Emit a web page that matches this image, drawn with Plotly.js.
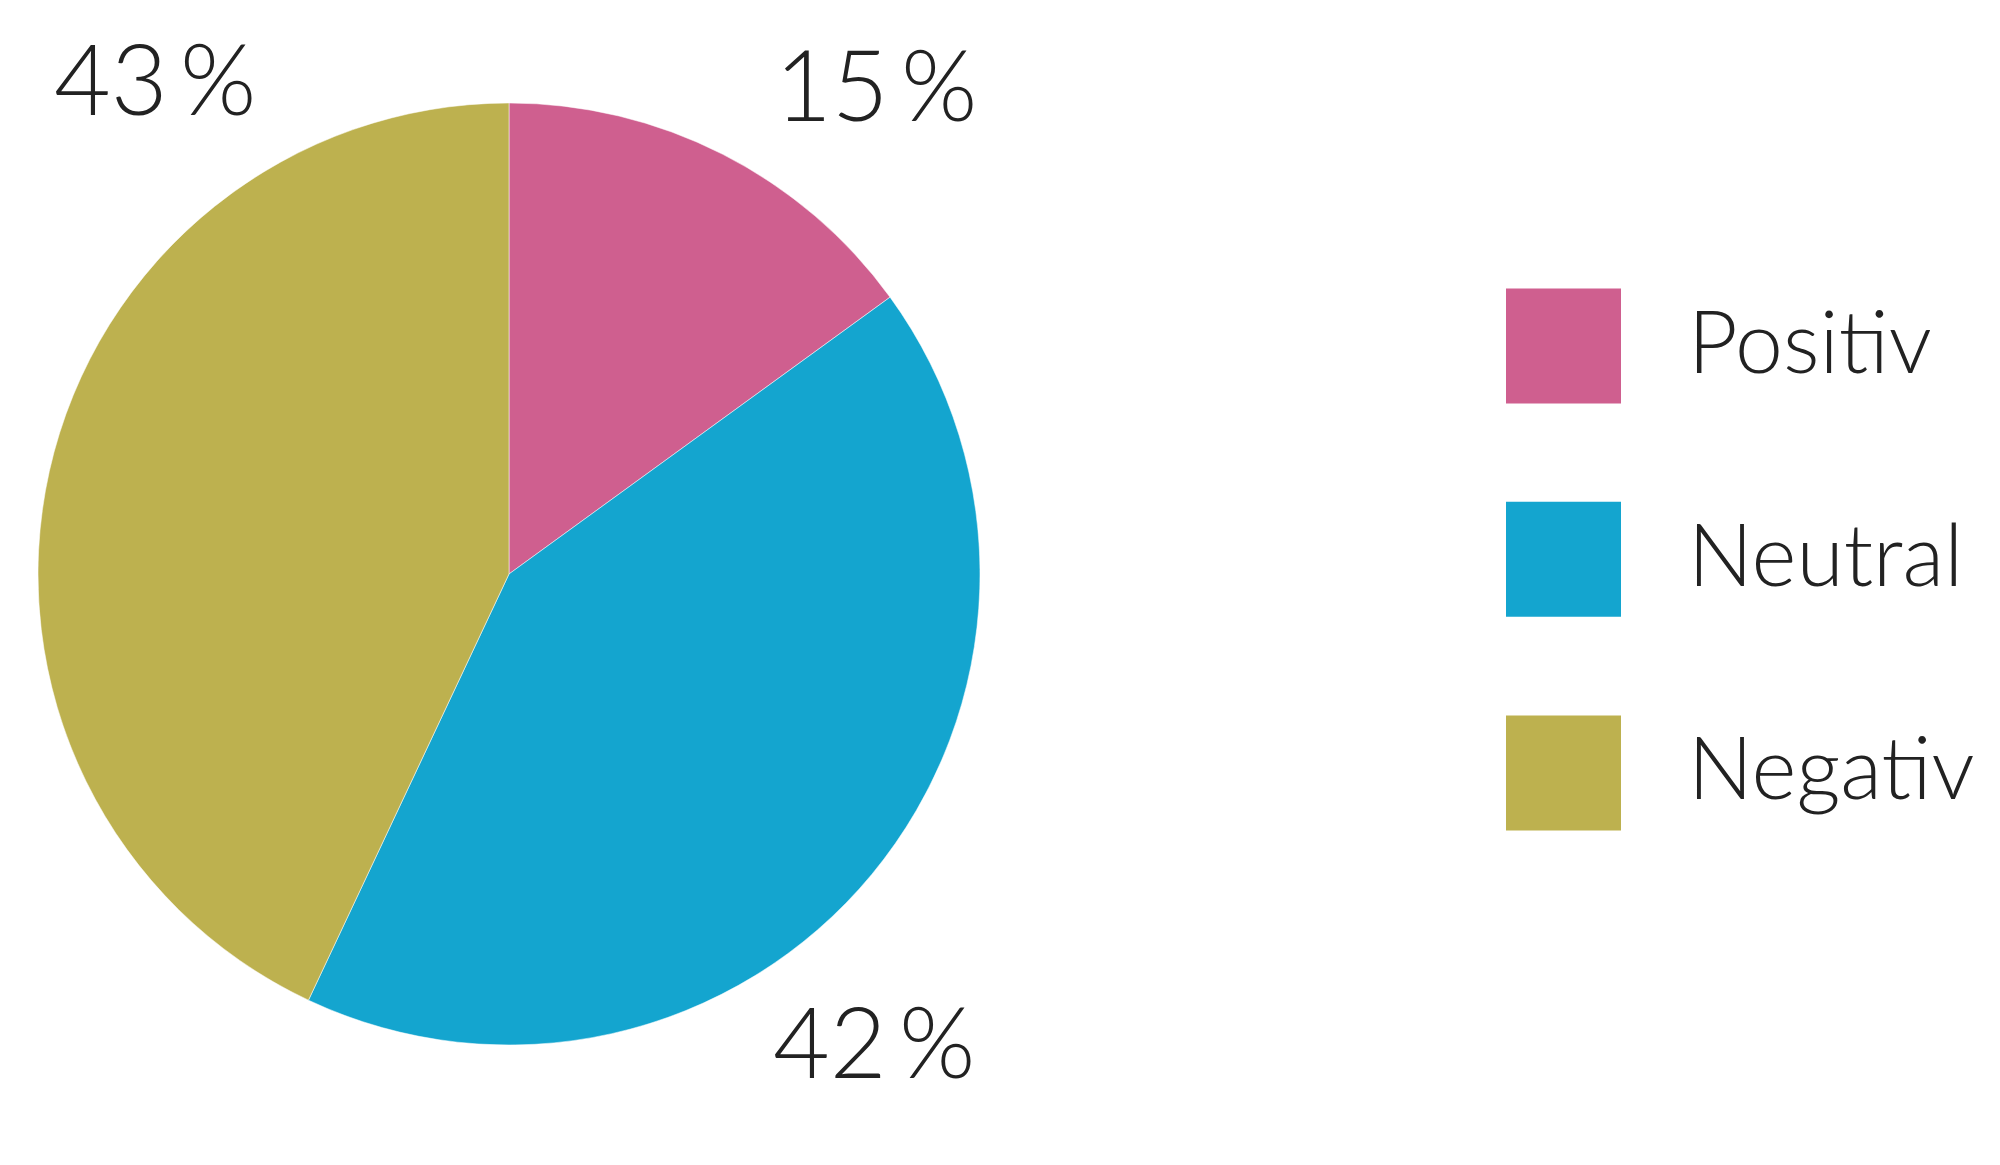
<!DOCTYPE html>
<html>
<head>
<meta charset="utf-8">
<script src="https://cdn.plot.ly/plotly-3.0.1.min.js"></script>
<style>html,body{margin:0;padding:0;background:#fff;}#chart{width:2000px;height:1165px;}</style>
</head>
<body>
<div id="chart"></div>
<script>
const categories = ["Positiv", "Neutral", "Negativ"];
const values = [15, 42, 43];
const colors = ["#cf5f8f", "#14a5cf", "#bdb14f"];

const FONT = "Lato, 'Liberation Sans Narrow', sans-serif";

// label positions (paper coords) for each slice's percentage
const labelPos = [
  {x: 0.438, y: 0.929},
  {x: 0.437, y: 0.107},
  {x: 0.0775, y: 0.934}
];
// legend rows (paper y centers)
const legendY = [0.703, 0.520, 0.3365];

const trace = {
  type: "pie",
  labels: categories,
  values: values,
  sort: false,
  direction: "clockwise",
  rotation: 0,
  marker: {colors: colors, line: {color: "#ffffff", width: 0.5}},
  textinfo: "none",
  hoverinfo: "label+percent",
  showlegend: false,
  domain: {x: [0.019, 0.49], y: [0.103, 0.9116]}
};

const annotations = [];
const shapes = [];
values.forEach((v, i) => {
  annotations.push({
    xref: "paper", yref: "paper", x: labelPos[i].x, y: labelPos[i].y,
    xanchor: "center", yanchor: "middle", showarrow: false,
    text: v + "\u2009%",
    font: {family: FONT, size: 98, color: "#222222", weight: 300}
  });
  shapes.push({
    type: "rect", xref: "paper", yref: "paper",
    x0: 0.753, x1: 0.8105, y0: legendY[i] - 0.0494, y1: legendY[i] + 0.0494,
    fillcolor: colors[i], line: {width: 0}
  });
  annotations.push({
    xref: "paper", yref: "paper", x: 0.843, y: legendY[i] + 0.006,
    xanchor: "left", yanchor: "middle", showarrow: false,
    text: categories[i],
    font: {family: FONT, size: 86, color: "#222222", weight: 300}
  });
});

const layout = {
  width: 2000, height: 1165,
  margin: {l: 0, r: 0, t: 0, b: 0},
  paper_bgcolor: "#ffffff",
  plot_bgcolor: "#ffffff",
  showlegend: false,
  annotations: annotations,
  shapes: shapes
};

Plotly.newPlot("chart", [trace], layout, {displayModeBar: false, staticPlot: true});
</script>
</body>
</html>
